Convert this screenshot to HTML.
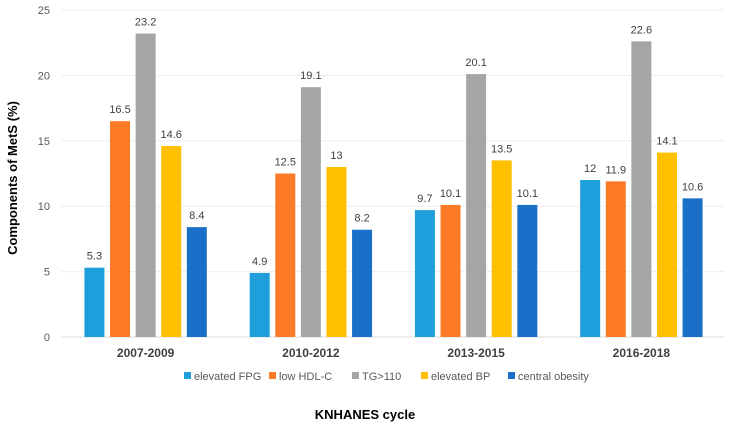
<!DOCTYPE html>
<html><head><meta charset="utf-8"><style>
body{margin:0;background:#fff;}
svg{display:block;font-family:"Liberation Sans","Noto Sans CJK KR",sans-serif;}
</style></head><body>
<svg id="c" width="730" height="426"></svg>
<script>
const categories=["2007-2009","2010-2012","2013-2015","2016-2018"];
const seriesNames=["elevated FPG","low HDL-C","TG>110","elevated BP","central obesity"];
const seriesColors=["#1e9fdb","#fd7b27","#a5a5a5","#ffc000","#1a70c8"];
const fpg=[5.3,4.9,9.7,12];
const hdl=[16.5,12.5,10.1,11.9];
const tg=[23.2,19.1,20.1,22.6];
const bp=[14.6,13,13.5,14.1];
const obesity=[8.4,8.2,10.1,10.6];
const labels=[["5.3","4.9","9.7","12"],["16.5","12.5","10.1","11.9"],["23.2","19.1","20.1","22.6"],["14.6","13","13.5","14.1"],["8.4","8.2","10.1","10.6"]];
const yTicks=[0,5,10,15,20,25];
const series=[fpg,hdl,tg,bp,obesity];
const svg=document.getElementById('c');
const NS="http://www.w3.org/2000/svg";
const x0=63,x1=724,y0=337,y1=10,ymax=25;
const y=v=>y0-(v/ymax)*(y0-y1);
const gw=(x1-x0)/categories.length;
const bw=20,step=25.6;
function mk(t,a,txt){const e=document.createElementNS(NS,t);for(const k in a)e.setAttribute(k,a[k]);if(txt!==undefined)e.textContent=txt;svg.appendChild(e);return e;}
yTicks.forEach(t=>{
 const g=mk('line',{x1:x0-2,x2:x1,y1:y(t),y2:y(t),stroke:t===0?'#d9d9d9':'#eeeeee','stroke-width':1});
 
 
 const l=mk('text',{x:50,y:y(t)+4,'text-anchor':'end','font-size':11,fill:'#595959'},String(t));
 
 
});
categories.forEach((c,i)=>{
 const cx=x0+gw*(i+0.5);
 series.forEach((s,j)=>{
  const bx=cx-2*step-bw/2+j*step;
  const r=mk('rect',{x:bx,y:y(s[i]),width:bw,height:y0-y(s[i]),fill:seriesColors[j]});
  
  
  const t=mk('text',{x:bx+bw/2,y:y(s[i])-8,'text-anchor':'middle','font-size':11,fill:'#404040'},labels[j][i]);
  
  
 });
 const cl=mk('text',{x:cx,y:357,'text-anchor':'middle','font-size':12,'font-weight':'bold',fill:'#404040'},c);
 
 
});
let lx=184;
const lw=[72,70,56,74,86];
seriesNames.forEach((n,j)=>{
 const r=mk('rect',{x:lx,y:372,width:7,height:7,fill:seriesColors[j]});
 
 
 const t=mk('text',{x:lx+10,y:380,'font-size':11,fill:'#595959'},n);
 
 
 lx+=lw[j]+13;
});
const xt=mk('text',{x:365,y:419,'text-anchor':'middle','font-size':13,'font-weight':'bold',fill:'#000'},'KNHANES cycle');


const yt=mk('text',{x:0,y:0,'text-anchor':'middle','font-size':13,'font-weight':'bold',fill:'#000',transform:'translate(17,178) rotate(-90)'},'Components of MetS (%)');


</script>
</body></html>
